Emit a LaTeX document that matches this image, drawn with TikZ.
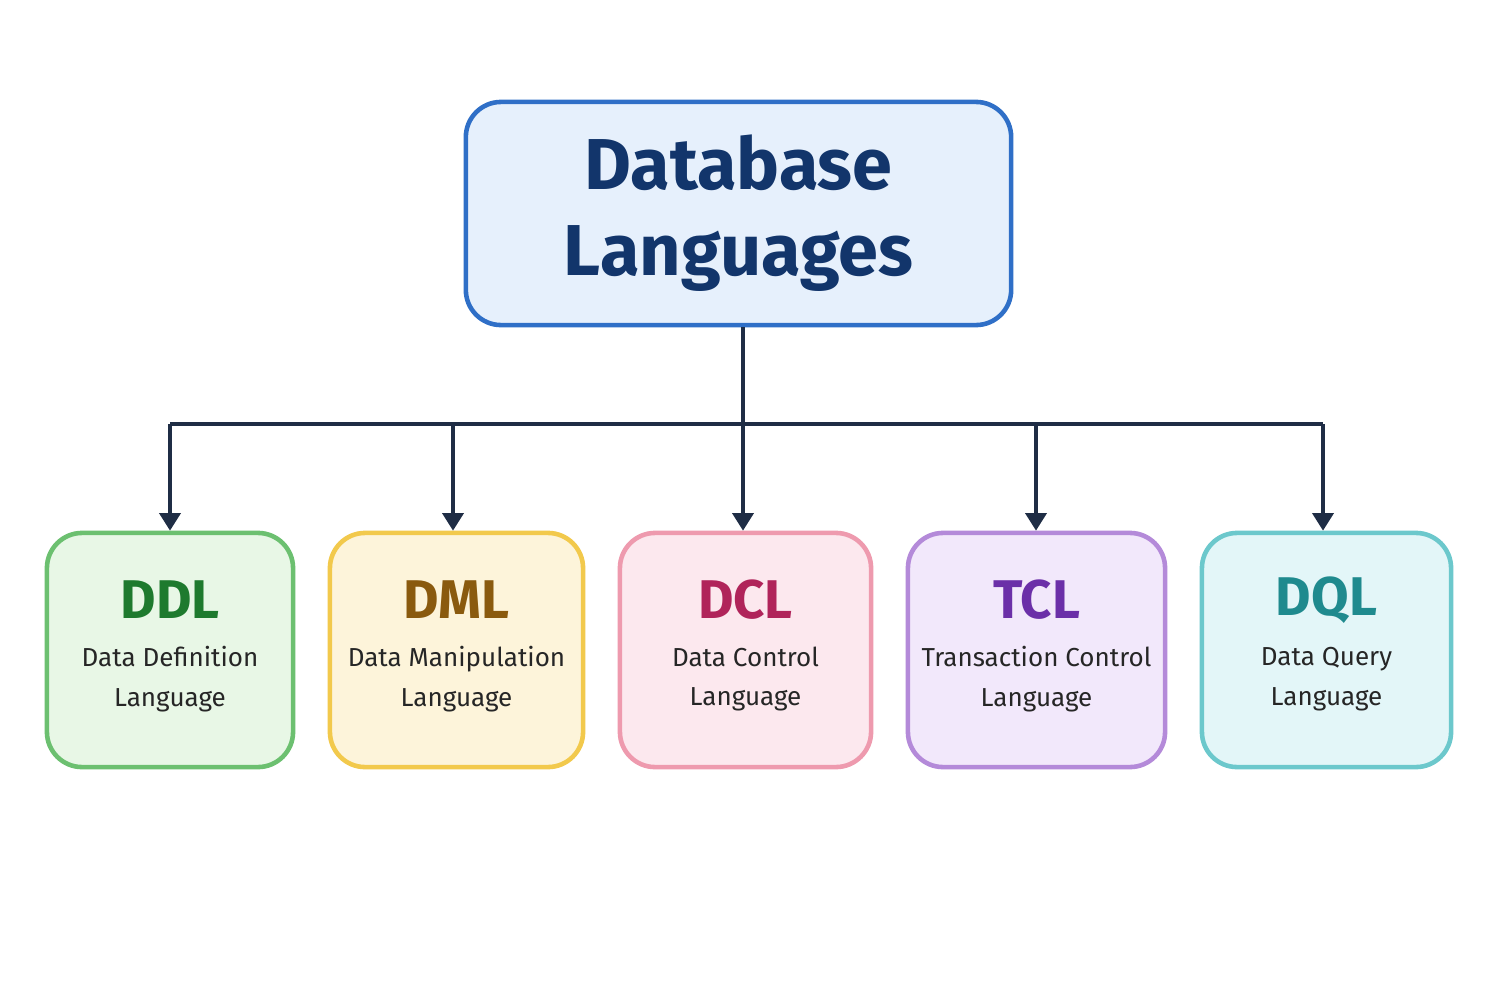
\documentclass[tikz,border=0pt]{standalone}
\usepackage{fontspec}
\setmainfont{Fira Sans}
\usetikzlibrary{arrows.meta}
\definecolor{arr}{HTML}{1F2D45}
\begin{document}
\begin{tikzpicture}[x=0.01cm,y=-0.01cm,
 box/.style={draw,line width=1.3pt,rounded corners=10pt,align=center,inner sep=0pt},
 kid/.style={box,minimum height=2.34cm},
 ttl/.style={font=\fontsize{15.5}{18}\selectfont\bfseries},
 sub/.style={align=center,font=\fontsize{7.4}{11.2}\selectfont},
 con/.style={draw=arr,line width=1pt},
 arw/.style={con,-{Triangle[length=5pt,width=6pt]}}]
\useasboundingbox (0,0) rectangle (1500,1000);
\fill[white] (0,0) rectangle (1500,1000);
\definecolor{mf}{HTML}{E6F0FC}\definecolor{md}{HTML}{2F6FC7}\definecolor{mt}{HTML}{12356B}
\node[box,fill=mf,draw=md,text=mt,minimum width=5.45cm,minimum height=2.23cm,
 font=\fontsize{20.5}{24.5}\selectfont\bfseries] (main) at (738.5,213.5) {Database\\Languages};
\newcommand\kidbox[8]{%
 \definecolor{f#1}{HTML}{#4}\definecolor{d#1}{HTML}{#5}\definecolor{t#1}{HTML}{#6}%
 \node[kid,fill=f#1,draw=d#1,minimum width=#3cm] (#1) at (#2,650) {};
 \node[ttl,text=t#1] (#1t) at (#2,600) {#7};
 \node[sub,text=black!85] (#1s) at (#2,679) {#8};}
\kidbox{ddl}{170}{2.46}{E8F7E6}{6CC070}{1E7A2E}{DDL}{Data Definition\\Language}
\kidbox{dml}{456.5}{2.53}{FDF4DA}{F2C94C}{8A5A0E}{DML}{Data Manipulation\\Language}
\kidbox{dcl}{745.5}{2.51}{FCE8EE}{EE9AAE}{B0245A}{DCL}{Data Control\\Language}
\kidbox{tcl}{1036.5}{2.57}{F2E8FB}{B48AD9}{6B2FA8}{TCL}{Transaction Control\\Language}
\kidbox{dql}{1326.5}{2.49}{E3F6F8}{6CC8CC}{1F8A8E}{DQL}{Data Query\\Language}
\coordinate (j) at (743,424);
\coordinate (l) at (170,424);
\coordinate (r) at (1323,424);
\draw[con] (main.south -| j) -- (j);
\draw[con] (l) -- (r);
\draw[arw] (l) -- (l |- ddl.north);
\draw[arw] (453,424) -- (ddl.north -| 453,0);
\draw[arw] (j) -- (j |- dcl.north);
\draw[arw] (1036,424) -- (tcl.north -| 1036,0);
\draw[arw] (r) -- (r |- dql.north);
\end{tikzpicture}
\end{document}
